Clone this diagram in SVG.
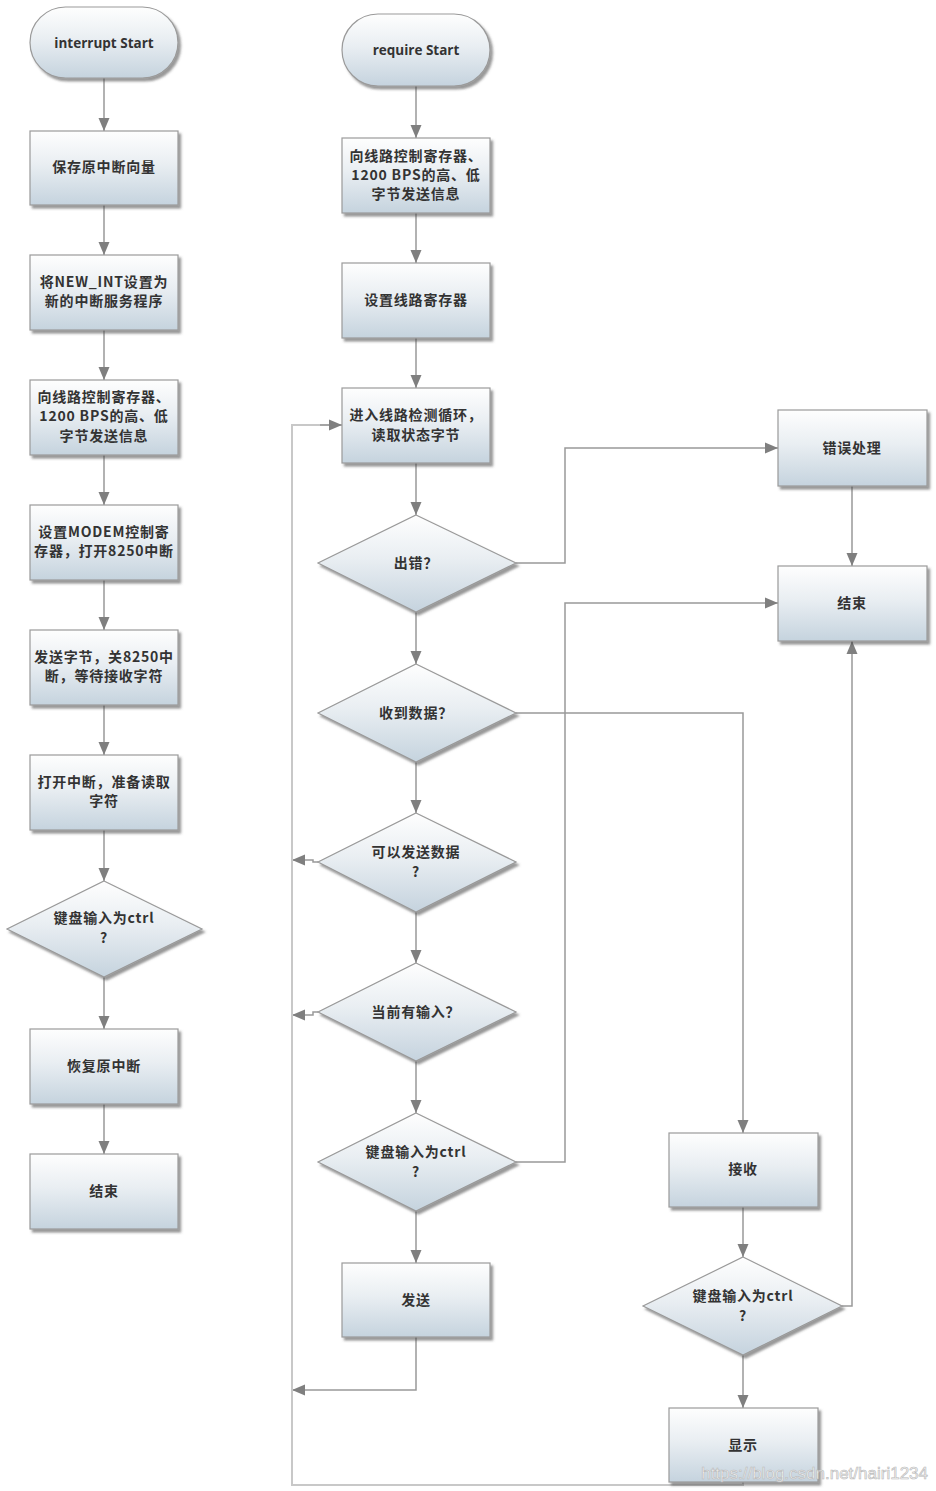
<svg xmlns="http://www.w3.org/2000/svg" width="936" height="1491" viewBox="0 0 936 1491">
<style>
.n{fill:url(#g);stroke:#9a9a9a;stroke-width:1.2;filter:url(#sh)}
.t{font-family:"Noto Sans CJK SC","Noto Sans",sans-serif;font-size:14px;font-weight:bold;fill:#333;text-anchor:middle;letter-spacing:0.8px}
.l{font-family:"Open Sans","Liberation Sans",sans-serif;font-size:13.5px;font-weight:bold;fill:#333;text-anchor:middle}
.c{fill:none;stroke:#999;stroke-width:1.5}
.lp{fill:none;stroke:#c8c8c8;stroke-width:2}
.a{marker-end:url(#ar)}
</style>
<defs>
<linearGradient id="g" x1="0" y1="0" x2="0" y2="1">
<stop offset="0" stop-color="#fefefe"/>
<stop offset="0.45" stop-color="#e9eef2"/>
<stop offset="1" stop-color="#c5d3de"/>
</linearGradient>
<filter id="sh" x="-10%" y="-10%" width="130%" height="140%">
<feDropShadow dx="2.5" dy="3" stdDeviation="1.2" flood-color="#444" flood-opacity="0.55"/>
</filter>
<marker id="ar" markerUnits="userSpaceOnUse" markerWidth="14" markerHeight="12" refX="13" refY="6" orient="auto">
<path d="M0,0.5 L13,6 L0,11.5 z" fill="#7f7f7f"/>
</marker>
</defs>
<rect width="936" height="1491" fill="#fff"/>

<g id="connectors">
<path class="c a" d="M104,78 V131"/>
<path class="c a" d="M104,205 V255"/>
<path class="c a" d="M104,330 V380"/>
<path class="c a" d="M104,455 V505"/>
<path class="c a" d="M104,580 V630"/>
<path class="c a" d="M104,705 V755"/>
<path class="c a" d="M104,830 V881"/>
<path class="c a" d="M104,977 V1029"/>
<path class="c a" d="M104,1104 V1154"/>
<path class="c a" d="M416,86 V138"/>
<path class="c a" d="M416,213 V263"/>
<path class="c a" d="M416,338 V388"/>
<path class="c a" d="M416,463 V515"/>
<path class="c a" d="M416,612 V664"/>
<path class="c a" d="M416,762 V813"/>
<path class="c a" d="M416,912 V963"/>
<path class="c a" d="M416,1061 V1113"/>
<path class="c a" d="M416,1211 V1263"/>
<path class="c a" d="M516,563 H565 V448 H778"/>
<path class="c a" d="M852,486 V566"/>
<path class="c a" d="M516,1162 H565 V603 H778"/>
<path class="c a" d="M516,713 H743 V1133"/>
<path class="c a" d="M743,1207 V1257"/>
<path class="c a" d="M743,1355 V1408"/>
<path class="c a" d="M842,1306 H852 V641"/>
<path class="c a" d="M318,862 H313 V860 H292"/>
<path class="c a" d="M318,1012 H313 V1015 H292"/>
<path class="c a" d="M416,1337 V1390 H292"/>
<path class="lp" d="M743,1482 V1485 H292 V425 H330"/>
<path class="c a" d="M320,425 H342"/>
</g>

<g id="n_interrupt_start"><rect class="n" x="30" y="7" width="148" height="71" rx="35.5"/><text class="l" x="104" y="48">interrupt Start</text></g>
<g id="n_save"><rect class="n" x="30" y="131" width="148" height="74"/><text class="t" x="104" y="172">保存原中断向量</text></g>
<g id="n_newint"><rect class="n" x="30" y="255" width="148" height="75"/><text class="t" x="104" y="287">将NEW_INT设置为</text><text class="t" x="104" y="306">新的中断服务程序</text></g>
<g id="n_l_linectrl"><rect class="n" x="30" y="380" width="148" height="75"/><text class="t" x="104" y="402">向线路控制寄存器、</text><text class="t" x="104" y="421">1200 BPS的高、低</text><text class="t" x="104" y="441">字节发送信息</text></g>
<g id="n_modem"><rect class="n" x="30" y="505" width="148" height="75"/><text class="t" x="104" y="537">设置MODEM控制寄</text><text class="t" x="104" y="556">存器，打开8250中断</text></g>
<g id="n_sendbyte"><rect class="n" x="30" y="630" width="148" height="75"/><text class="t" x="104" y="662">发送字节，关8250中</text><text class="t" x="104" y="681">断，等待接收字符</text></g>
<g id="n_openint"><rect class="n" x="30" y="755" width="148" height="75"/><text class="t" x="104" y="787">打开中断，准备读取</text><text class="t" x="104" y="806">字符</text></g>
<g id="n_l_ctrl"><path class="n" d="M104,881 L202,929 L104,977 L7,929 Z"/><text class="t" x="104" y="923">键盘输入为ctrl</text><text class="t" x="104" y="943">?</text></g>
<g id="n_restore"><rect class="n" x="30" y="1029" width="148" height="75"/><text class="t" x="104" y="1071">恢复原中断</text></g>
<g id="n_l_end"><rect class="n" x="30" y="1154" width="148" height="75"/><text class="t" x="104" y="1196">结束</text></g>

<g id="n_require_start"><rect class="n" x="342" y="14" width="148" height="72" rx="36"/><text class="l" x="416" y="55">require Start</text></g>
<g id="n_m_linectrl"><rect class="n" x="342" y="138" width="148" height="75"/><text class="t" x="416" y="161">向线路控制寄存器、</text><text class="t" x="416" y="180">1200 BPS的高、低</text><text class="t" x="416" y="199">字节发送信息</text></g>
<g id="n_setline"><rect class="n" x="342" y="263" width="148" height="75"/><text class="t" x="416" y="305">设置线路寄存器</text></g>
<g id="n_loop"><rect class="n" x="342" y="388" width="148" height="75"/><text class="t" x="416" y="420">进入线路检测循环，</text><text class="t" x="416" y="440">读取状态字节</text></g>
<g id="n_err_q"><path class="n" d="M416,515 L516,563 L416,612 L318,563 Z"/><text class="t" x="416" y="568">出错？</text></g>
<g id="n_recv_q"><path class="n" d="M416,664 L516,713 L416,762 L318,713 Z"/><text class="t" x="416" y="718">收到数据？</text></g>
<g id="n_send_q"><path class="n" d="M416,813 L516,862 L416,912 L318,862 Z"/><text class="t" x="416" y="857">可以发送数据</text><text class="t" x="416" y="877">?</text></g>
<g id="n_input_q"><path class="n" d="M416,963 L516,1012 L416,1061 L318,1012 Z"/><text class="t" x="416" y="1017">当前有输入？</text></g>
<g id="n_m_ctrl"><path class="n" d="M416,1113 L516,1162 L416,1211 L318,1162 Z"/><text class="t" x="416" y="1157">键盘输入为ctrl</text><text class="t" x="416" y="1177">?</text></g>
<g id="n_send"><rect class="n" x="342" y="1263" width="148" height="74"/><text class="t" x="416" y="1305">发送</text></g>

<g id="n_errproc"><rect class="n" x="778" y="410" width="149" height="76"/><text class="t" x="852" y="453">错误处理</text></g>
<g id="n_r_end"><rect class="n" x="778" y="566" width="149" height="75"/><text class="t" x="852" y="608">结束</text></g>
<g id="n_receive"><rect class="n" x="669" y="1133" width="149" height="74"/><text class="t" x="743" y="1174">接收</text></g>
<g id="n_r_ctrl"><path class="n" d="M743,1257 L842,1306 L743,1355 L643,1306 Z"/><text class="t" x="743" y="1301">键盘输入为ctrl</text><text class="t" x="743" y="1321">?</text></g>
<g id="n_display"><rect class="n" x="669" y="1408" width="149" height="74"/><text class="t" x="743" y="1450">显示</text></g>

<text x="928" y="1479" font-family="Liberation Sans,Arial,sans-serif" font-size="17" fill="#f4f4f4" stroke="#b8b8b8" stroke-width="0.6" text-anchor="end">https://blog.csdn.net/hairi1234</text>
</svg>
